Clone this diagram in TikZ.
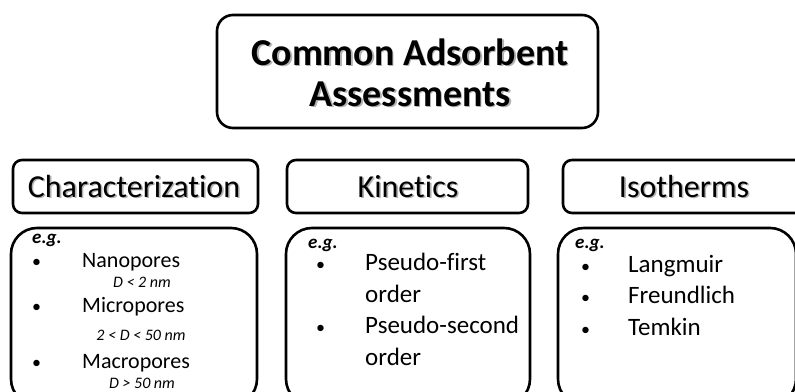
\documentclass[tikz,border=0pt]{standalone}
\usepackage{fontspec}
\setmainfont[Ligatures={NoCommon}]{Carlito}
\newcommand\shadowed[1]{\rlap{\raisebox{-1.6pt}{\hspace{1.6pt}\textcolor{black!30}{#1}}}#1}
\begin{document}
\begin{tikzpicture}[x=1pt,y=-1pt,
  box/.style={draw=black, line width=2.6pt, inner sep=0pt, anchor=center},
  titlebox/.style={box, rounded corners=16pt},
  headbox/.style={box, rounded corners=9pt},
  listbox/.style={box, rounded corners=26pt},
  titletext/.style={anchor=base, inner sep=0pt, font=\fontsize{38}{42}\selectfont\bfseries},
  headtext/.style={anchor=base, inner sep=0pt, font=\fontsize{32}{36}\selectfont},
  eg/.style={anchor=base west, inner sep=0pt, font=\fontsize{19}{22}\selectfont\bfseries\itshape},
  itemA/.style={anchor=base west, inner sep=0pt, font=\fontsize{22}{26}\selectfont},
  itemB/.style={anchor=base west, inner sep=0pt, font=\fontsize{25}{30}\selectfont},
  sizeA/.style={anchor=base, inner sep=0pt, font=\fontsize{16}{18}\selectfont\itshape},
  bul/.style={anchor=base west, inner sep=0pt, font=\fontsize{18}{22}\selectfont},
]
\useasboundingbox (0,0) rectangle (795,391);
\clip (0,0) rectangle (795,391);

% title
\node[titlebox, minimum width=381pt, minimum height=113pt] (top) at (407.5,71.5) {};
\node[titletext] (t1) at (410,65) {\shadowed{Common Adsorbent}};
\node[titletext] (t2) at (410,106) {\shadowed{Assessments}};

% headings
\node[headbox, minimum width=245pt, minimum height=53pt] (charH) at (135.5,186.5) {};
\node[headtext] (charT) at (134,197) {\shadowed{Characterization}};
\node[headbox, minimum width=241pt, minimum height=53pt] (kinH) at (407.5,186.5) {};
\node[headtext] (kinT) at (408,197) {\shadowed{Kinetics}};
\node[headbox, minimum width=242pt, minimum height=53pt] (isoH) at (684,186.5) {};
\node[headtext] (isoT) at (684,197) {\shadowed{Isotherms}};

% list boxes
\node[listbox, minimum width=246pt, minimum height=177pt] (charL) at (134,316.5) {};
\node[listbox, minimum width=244pt, minimum height=177pt] (kinL) at (408,316.5) {};
\node[listbox, minimum width=238pt, minimum height=177pt] (isoL) at (677,316.5) {};

% characterization list
\node[eg] (egA) at (32,243) {e.g.};
\node[bul] (bA1) at (32,267) {•};
\node[itemA] (nano) at (82,267) {Nanopores};
\node[sizeA] (nanoS) at (142,287) {D < 2 nm};
\node[bul] (bA2) at (32,312) {•};
\node[itemA] (micro) at (82,312) {Micropores};
\node[sizeA] (microS) at (141,340) {2 < D < 50 nm};
\node[bul] (bA3) at (32,368) {•};
\node[itemA] (macro) at (82,368) {Macropores};
\node[sizeA] (macroS) at (142,388) {D > 50 nm};

% kinetics list
\node[eg] (egB) at (308,248) {e.g.};
\node[bul] (bB1) at (316,270) {•};
\node[itemB] (pf) at (365,270) {Pseudo-first};
\node[itemB] (pf2) at (365,302) {order};
\node[bul] (bB2) at (316,333) {•};
\node[itemB] (ps) at (365,333) {Pseudo-second};
\node[itemB] (ps2) at (365,365) {order};

% isotherms list
\node[eg] (egC) at (575,248) {e.g.};
\node[bul] (bC1) at (581,272) {•};
\node[itemB] (lang) at (628,272) {Langmuir};
\node[bul] (bC2) at (581,303) {•};
\node[itemB] (freu) at (628,303) {Freundlich};
\node[bul] (bC3) at (581,335) {•};
\node[itemB] (temk) at (628,335) {Temkin};
\end{tikzpicture}
\end{document}
